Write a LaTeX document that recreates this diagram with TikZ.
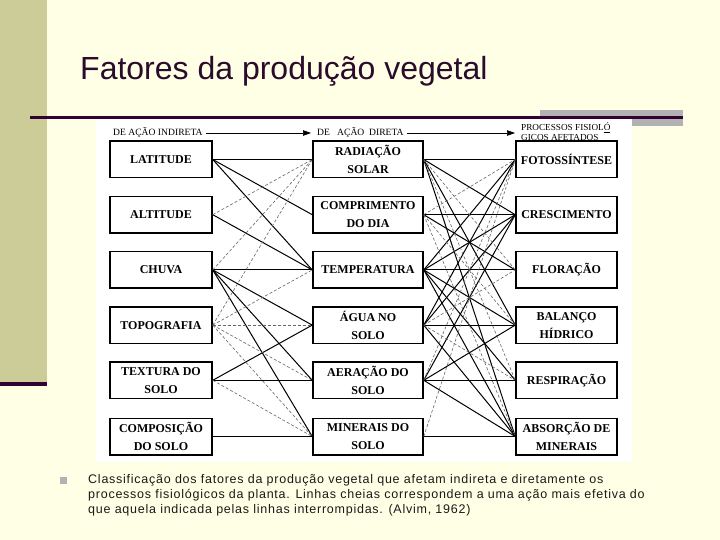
\documentclass[tikz,border=0pt]{standalone}
\usepackage{fontspec}
\setmainfont{Liberation Serif}
\newfontfamily\arialf{Liberation Sans}
\newfontfamily\arialsp[LetterSpace=6]{Liberation Sans}
\usetikzlibrary{arrows.meta}
\definecolor{bgyel}{HTML}{FFFFE5}
\definecolor{khaki}{HTML}{CCCC99}
\definecolor{darkpur}{HTML}{330033}
\definecolor{grayrect}{HTML}{B2B2B2}
\definecolor{titlecol}{HTML}{2B0B2B}
\definecolor{captcol}{HTML}{1A1A1A}
\begin{document}
\begin{tikzpicture}[x=1pt,y=-1pt,
  box/.style={draw=black, line width=1.5pt, minimum height=36.5pt, inner sep=0pt, align=center, font=\fontsize{12}{18}\selectfont\bfseries},
  lbox/.style={box, minimum width=102pt},
  mbox/.style={box, minimum width=110pt},
  rbox/.style={box, minimum width=101pt},
  hdr/.style={inner sep=3pt, font=\fontsize{9.6}{9.6}\selectfont},
  harrow/.style={line width=0.7pt, -{Triangle[length=8pt,width=5.5pt]}},
  strong/.style={draw=black, line width=1pt},
  weak/.style={draw=black!60, line width=0.6pt, dash pattern=on 3pt off 2pt}]
\useasboundingbox (0,0) rectangle (720,540);
\fill[bgyel] (0,0) rectangle (720,540);
\fill[khaki] (0,0) rectangle (47,382);
\fill[darkpur] (0,382) rectangle (47,386);
\fill[grayrect] (540,110) rectangle (683,126);
\fill[darkpur] (30,116) rectangle (683,119.5);
\fill[white] (96,119.5) rectangle (632,462);

\node[anchor=base west, inner sep=0pt, text=titlecol, font=\arialf\fontsize{32}{36}\selectfont] (title) at (80,80) {Fatores da produção vegetal};

% headers
\node[hdr, anchor=west] (h1) at (110,133) {DE AÇÃO INDIRETA};
\node[hdr, anchor=west] (h2) at (314,133) {DE\ \ \ AÇÃO\ \ DIRETA};
\node[hdr, anchor=west, align=left, font=\fontsize{9.2}{9.4}\selectfont] (h3) at (518,131.5) {PROCESSOS FISIOL\underline{Ó}\\GICOS AFETADOS};
\draw[harrow] (h1.east) -- ([xshift=-3pt]h2.west);
\draw[harrow] (h2.east) -- ([xshift=-3pt]h3.west |- h2.east);

% boxes
\node[lbox] (l1) at (161,159.5) {LATITUDE};
\node[lbox] (l2) at (161,214.7) {ALTITUDE};
\node[lbox] (l3) at (161,269.9) {CHUVA};
\node[lbox] (l4) at (161,325.1) {TOPOGRAFIA};
\node[lbox] (l5) at (161,380.3) {TEXTURA DO\\SOLO};
\node[lbox] (l6) at (161,436.5) {COMPOSIÇÃO\\DO SOLO};

\node[mbox] (m1) at (368,159.5) {RADIAÇÃO\\SOLAR};
\node[mbox] (m2) at (368,214.7) {COMPRIMENTO\\DO DIA};
\node[mbox] (m3) at (368,269.9) {TEMPERATURA};
\node[mbox] (m4) at (368,325.1) {ÁGUA NO\\SOLO};
\node[mbox] (m5) at (368,380.3) {AERAÇÃO DO\\SOLO};
\node[mbox] (m6) at (368,436.5) {MINERAIS DO\\SOLO};

\node[rbox] (r1) at (566.5,159.5) {FOTOSSÍNTESE};
\node[rbox] (r2) at (566.5,214.7) {CRESCIMENTO};
\node[rbox] (r3) at (566.5,269.9) {FLORAÇÃO};
\node[rbox] (r4) at (566.5,325.1) {BALANÇO\\HÍDRICO};
\node[rbox] (r5) at (566.5,380.3) {RESPIRAÇÃO};
\node[rbox] (r6) at (566.5,436.5) {ABSORÇÃO DE\\MINERAIS};

% indirect -> direct
\foreach \a/\b in {l1/m1,l1/m2,l1/m3,l2/m3,l3/m3,l3/m4,l3/m5,l3/m6,l5/m4,l5/m5,l6/m6}
  \draw[strong] (\a.east) -- (\b.west);
\foreach \a/\b in {l2/m1,l3/m1,l4/m1,l4/m3,l4/m4,l4/m5,l4/m6,l5/m6}
  \draw[weak] (\a.east) -- (\b.west);

% direct -> processes
\foreach \a/\b in {m1/r1,m1/r2,m1/r4,m1/r6,m2/r2,m2/r3,m3/r1,m3/r2,m3/r3,m3/r4,m3/r5,m3/r6,m4/r1,m4/r2,m4/r4,m4/r6,m5/r2,m5/r4,m5/r5,m5/r6,m6/r6}
  \draw[strong] (\a.east) -- (\b.west);
\foreach \a/\b in {m1/r3,m1/r5,m2/r1,m2/r4,m2/r6,m4/r3,m4/r5,m5/r1,m6/r1}
  \draw[weak] (\a.east) -- (\b.west);

% caption
\node[fill=black!30, minimum size=7pt, inner sep=0pt] (bul) at (63.5,480.5) {};
\node[anchor=north west, inner sep=0pt, align=left, text=captcol, font=\arialsp\fontsize{12.5}{15.2}\selectfont] (cap) at (88,474) {Classificação dos fatores da produção vegetal que afetam indireta e diretamente os\\processos fisiológicos da planta. Linhas cheias correspondem a uma ação mais efetiva do\\que aquela indicada pelas linhas interrompidas. (Alvim, 1962)};
\end{tikzpicture}
\end{document}
